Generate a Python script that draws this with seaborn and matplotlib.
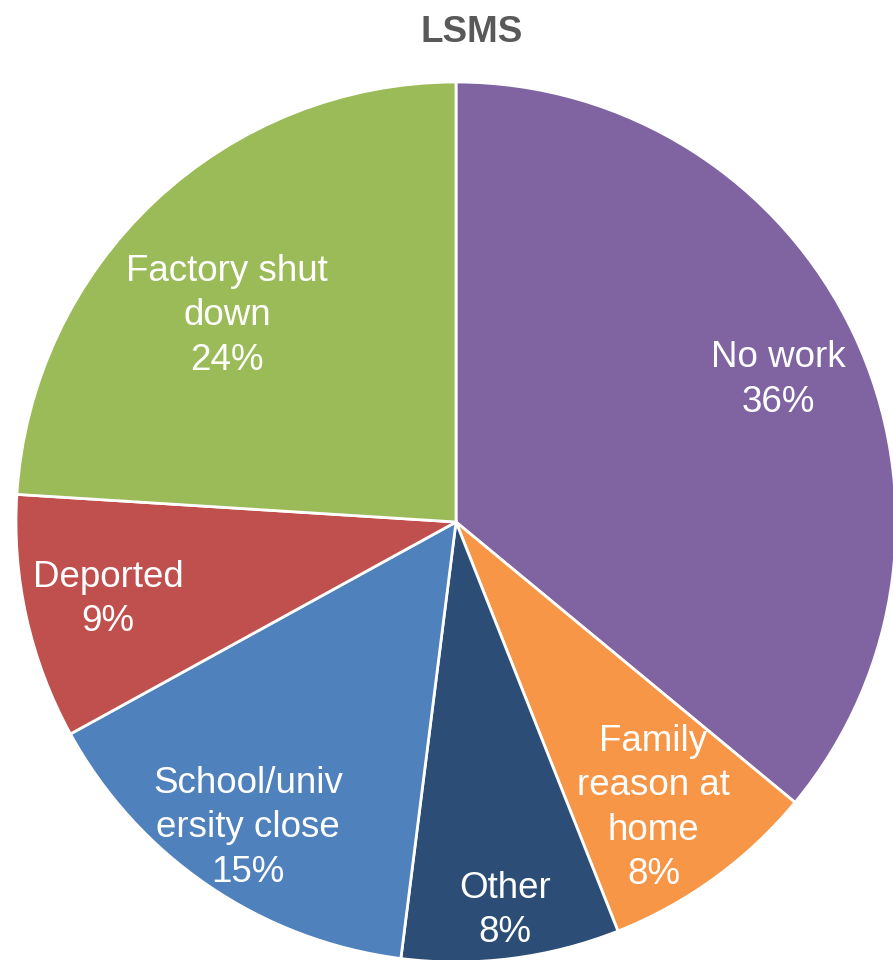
import numpy as np
import matplotlib
matplotlib.use("Agg")
import matplotlib.pyplot as plt
import seaborn as sns

# Reasons for returning, share of respondents (%)
categories = ["No work", "Family\nreason at\nhome", "Other",
              "School/univ\nersity close", "Deported", "Factory shut\ndown"]
shares = [36, 8, 8, 15, 9, 24]
colors = ["#8064A2", "#F79646", "#2C4D75", "#4F81BD", "#C0504D", "#9BBB59"]
# label placement: distance from centre (fraction of radius) and angular nudge (deg)
label_radius = [0.80, 0.79, 0.89, 0.84, 0.81, 0.70]
label_nudge = [-1.4, -1.4, 0.0, 0.0, 0.0, 4.8]

sns.set_theme(style="white")
plt.rcParams["font.family"] = ["Liberation Sans", "DejaVu Sans"]

W, H = 893, 960
fig = plt.figure(figsize=(W / 100, H / 100), dpi=100)
cx, cy, r = 456, 522, 440
ax = fig.add_axes([(cx - r) / W, (H - cy - r) / H, 2 * r / W, 2 * r / H])

wedges, _ = ax.pie(
    shares,
    colors=colors,
    startangle=90,
    counterclock=False,
    wedgeprops=dict(edgecolor="white", linewidth=2.0),
)
for w in wedges:
    w.set_clip_on(False)
ax.set_xlim(-1, 1)
ax.set_ylim(-1, 1)
ax.set_aspect("auto")
ax.axis("off")

for w, name, val, d, nudge in zip(wedges, categories, shares,
                                  label_radius, label_nudge):
    mid = np.deg2rad((w.theta1 + w.theta2) / 2 + nudge)
    ax.text(d * np.cos(mid), d * np.sin(mid), f"{name}\n{val}%",
            ha="center", va="center", color="white", fontsize=26.5,
            linespacing=1.35)

fig.text(472 / W, 1 - 33 / H, "LSMS", ha="center", va="center",
         fontsize=26.5, fontweight="bold", color="#595959")

fig.savefig("out.png", dpi=100, facecolor="white")
